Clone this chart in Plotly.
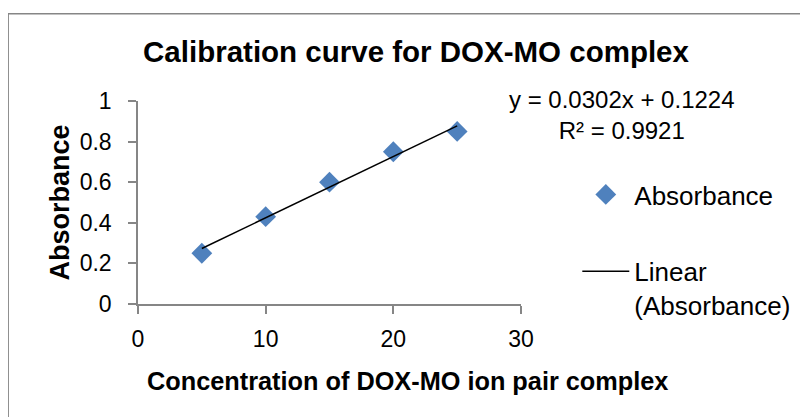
import plotly.graph_objects as go

# calibration data
concentration = [5, 10, 15, 20, 25]
absorbance = [0.25, 0.43, 0.60, 0.75, 0.85]

# trendline as printed on the chart
slope = 0.0302
intercept = 0.1224
r_squared = 0.9921

x_ticks = [0, 10, 20, 30]
y_ticks = [0, 0.2, 0.4, 0.6, 0.8, 1]
y_tick_labels = ["0", "0.2", "0.4", "0.6", "0.8", "1"]

fit_x = [concentration[0], concentration[-1]]
fit_y = [slope * v + intercept for v in fit_x]

AXIS_GREY = "#868686"
FONT = "Arial, Liberation Sans, sans-serif"

fig = go.Figure()

fig.add_trace(go.Scatter(
    x=concentration,
    y=absorbance,
    mode="markers",
    name="Absorbance",
    marker=dict(symbol="diamond", size=16, color="#4F81BD"),
    legendgroup="a",
))

fig.add_trace(go.Scatter(
    x=fit_x,
    y=fit_y,
    mode="lines",
    name="Linear<br>(Absorbance)",
    line=dict(color="black", width=1.5),
    legendgroup="b",
))

# page body has an 8px margin, so the figure is 8px smaller than the window
fig.update_layout(
    width=800,
    height=409,
    margin=dict(l=130, r=287, t=93, b=113),
    paper_bgcolor="white",
    plot_bgcolor="white",
    font=dict(family=FONT, color="black"),
    title=dict(
        text="<b>Calibration curve for DOX-MO complex</b>",
        font=dict(size=29.5, color="black"),
        x=408 / 800,
        xanchor="center",
        y=1 - 44 / 409,
        yanchor="middle",
    ),
    showlegend=True,
    legend=dict(
        x=1.147,
        y=0.655,
        xanchor="left",
        yanchor="top",
        font=dict(size=26),
        tracegroupgap=40,
        itemwidth=47,
        valign="top",
        bgcolor="rgba(0,0,0,0)",
    ),
)

fig.update_xaxes(
    range=[0, 30],
    tickvals=x_ticks,
    showgrid=False,
    zeroline=False,
    showline=True,
    linecolor=AXIS_GREY,
    linewidth=1.5,
    ticks="outside",
    tickcolor=AXIS_GREY,
    ticklen=8,
    tickwidth=1.5,
    tickfont=dict(size=23),
    ticklabelstandoff=6,
)

fig.update_yaxes(
    range=[0, 1],
    tickvals=y_ticks,
    ticktext=y_tick_labels,
    showgrid=False,
    zeroline=False,
    showline=True,
    linecolor=AXIS_GREY,
    linewidth=1.5,
    ticks="outside",
    tickcolor=AXIS_GREY,
    ticklen=8,
    tickwidth=1.5,
    tickfont=dict(size=23),
    ticklabelstandoff=12,
    title=dict(
        text="<b>Absorbance</b>",
        font=dict(size=27),
        standoff=2,
    ),
)

# x axis title sits centred on the whole chart, not on the plot area
fig.add_annotation(
    xref="paper", yref="paper",
    x=(399 - 130) / 383, y=-(373 - 296) / 203,
    xanchor="center", yanchor="middle",
    text="<b>Concentration of DOX-MO ion pair complex</b>",
    showarrow=False,
    font=dict(size=25.3, color="black"),
)

# trendline equation label
fig.add_annotation(
    xref="paper", yref="paper",
    x=1.265, y=0.93,
    xanchor="center", yanchor="middle",
    text=f"y = {slope}x + {intercept}<br>R² = {r_squared}",
    showarrow=False,
    font=dict(size=24, color="black"),
    align="center",
)

# chart area border (right and bottom edges fall outside the picture)
fig.add_shape(
    type="rect",
    xref="paper", yref="paper",
    x0=-0.339, x1=2.0,
    y0=-1.0, y1=1.43,
    line=dict(color=AXIS_GREY, width=1.5),
    fillcolor="rgba(0,0,0,0)",
    layer="below",
)

fig.write_html("out.html")
